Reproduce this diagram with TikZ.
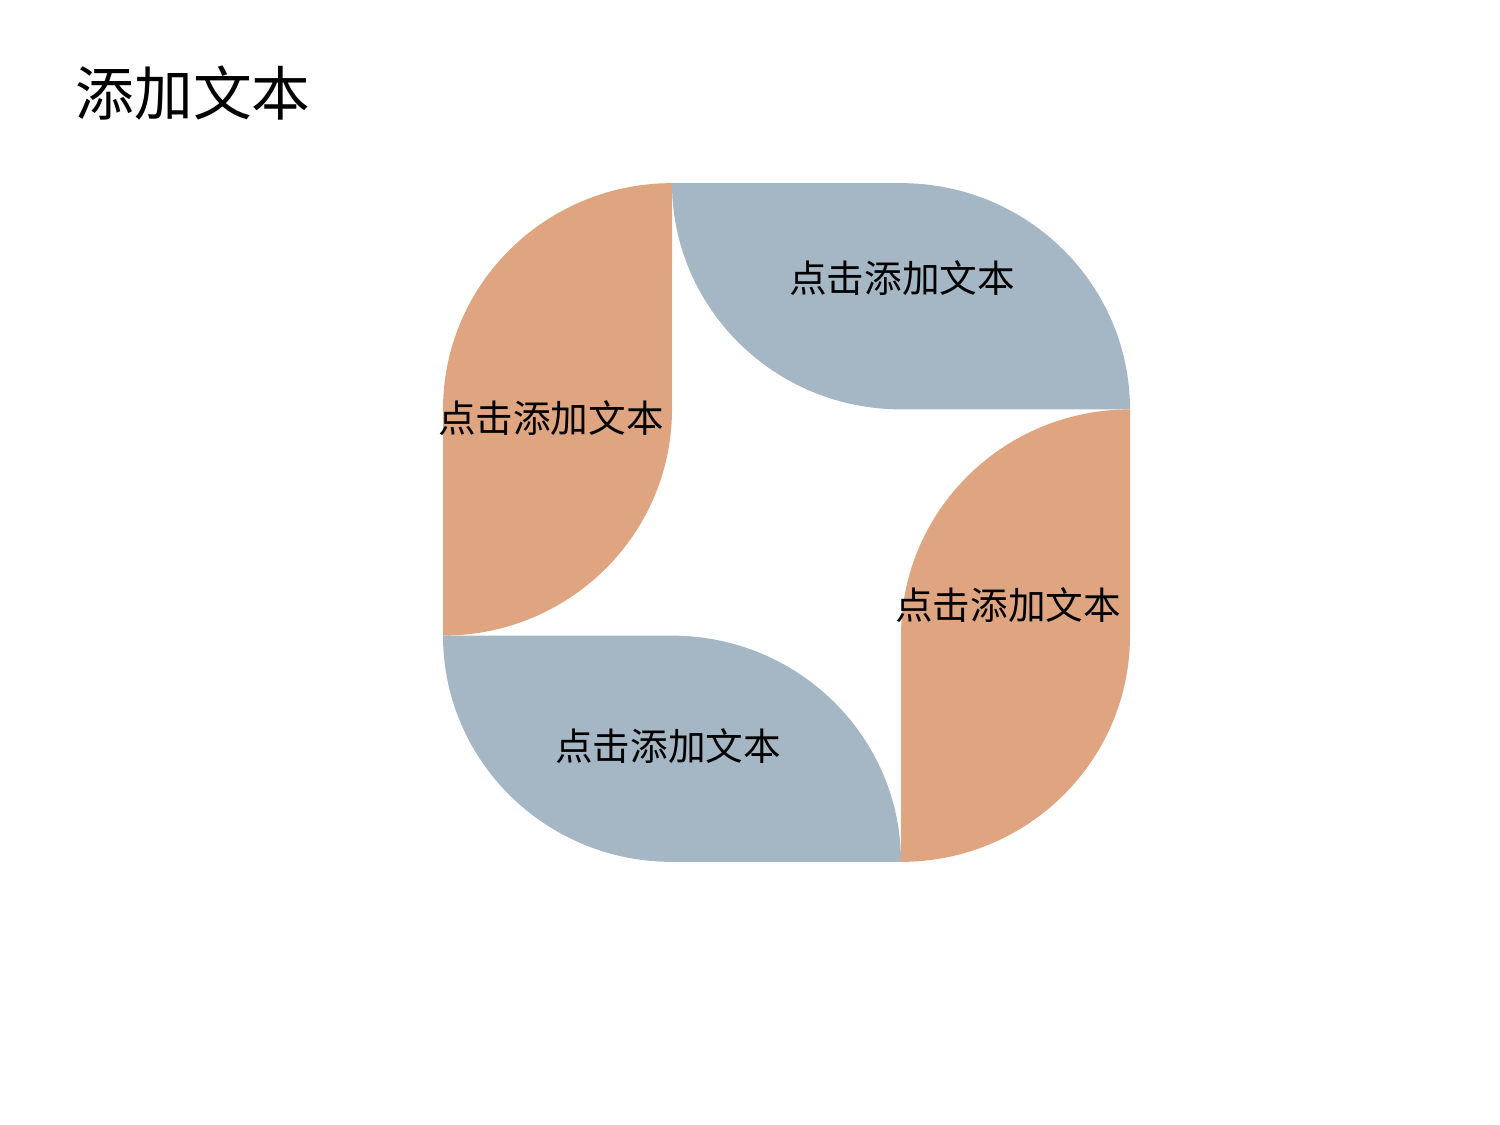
\documentclass[tikz,border=0pt]{standalone}
\usepackage{fontspec}
\setmainfont{Noto Sans CJK SC}
\definecolor{leafblue}{HTML}{A5B6C5}
\definecolor{leaforange}{HTML}{DFA580}
\tikzset{
  leaflabel/.style={font=\fontsize{10.7}{12}\selectfont, text=black, inner sep=0pt},
  titlelabel/.style={font=\fontsize{16.7}{19}\selectfont, text=black, inner sep=0pt, anchor=west}
}
\begin{document}
\begin{tikzpicture}
\useasboundingbox (0,0) rectangle (15,-11.25);
\begin{scope}[shift={(7.865,-5.225)}, yscale=0.988, x=2.29cm, y=2.29cm]
\foreach \ang/\col in {0/leafblue,90/leaforange,180/leafblue,270/leaforange}{
  \fill[\col, rotate=\ang] (-0.5,1.5) -- (0.5,1.5) arc[start angle=90,end angle=0,radius=1]
     -- (0.5,0.5) arc[start angle=270,end angle=180,radius=1] -- cycle;
}
\end{scope}
\node[titlelabel] (title) at (0.75,-0.93) {添加文本};
\node[leaflabel] (tr) at (9.02,-2.78) {点击添加文本};
\node[leaflabel] (lf) at (5.51,-4.18) {点击添加文本};
\node[leaflabel] (rt) at (10.08,-6.05) {点击添加文本};
\node[leaflabel] (bt) at (6.68,-7.46) {点击添加文本};
\end{tikzpicture}
\end{document}
